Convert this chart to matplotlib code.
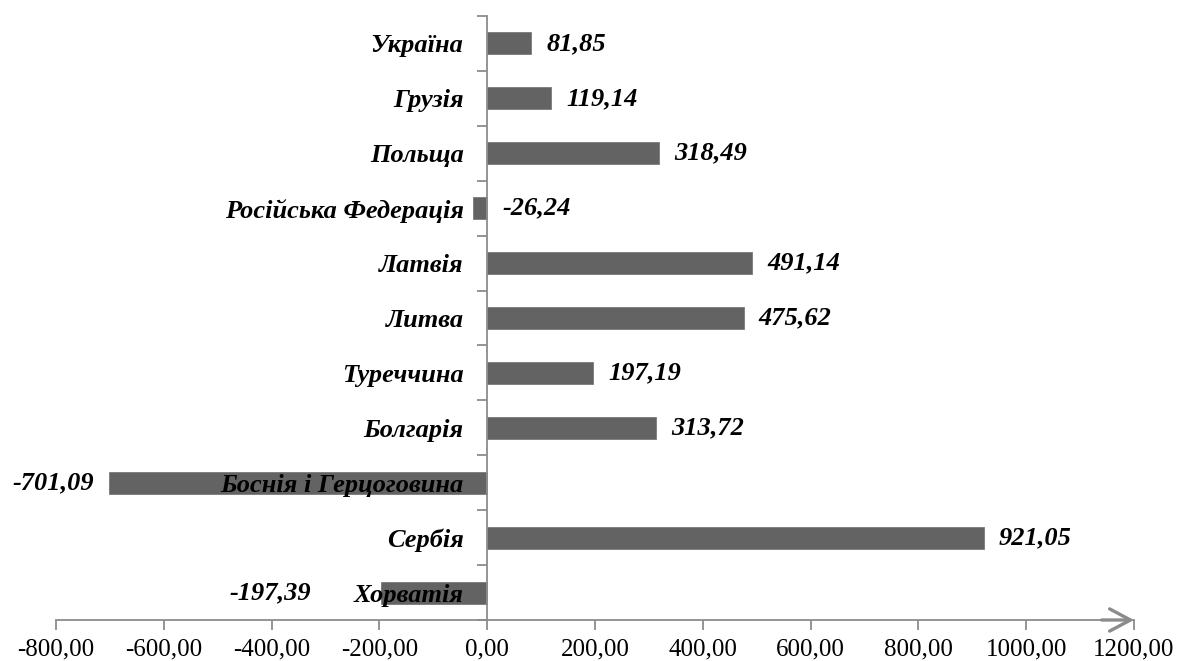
import matplotlib
matplotlib.use("Agg")
import matplotlib.pyplot as plt
from matplotlib.ticker import FixedLocator, FuncFormatter

countries = ["Україна", "Грузія", "Польща", "Російська Федерація", "Латвія",
             "Литва", "Туреччина", "Болгарія", "Боснія і Герцоговина",
             "Сербія", "Хорватія"]
values = [81.85, 119.14, 318.49, -26.24, 491.14, 475.62, 197.19, 313.72,
          -701.09, 921.05, -197.39]
x_ticks = [-800, -600, -400, -200, 0, 200, 400, 600, 800, 1000, 1200]

BAR = "#636363"
AXIS = "#8c8c8c"
SERIF = "Liberation Serif"

fig = plt.figure(figsize=(11.79, 6.61), dpi=100)
ax = fig.add_axes([56 / 1179, 41 / 661, (1134 - 56) / 1179, (620 - 16) / 661])

ypos = list(range(len(countries)))
ax.barh(ypos, values, height=0.4, color=BAR, edgecolor="#7a7a7a", linewidth=0.6, zorder=1)

ax.set_xlim(-800, 1200)
ax.set_ylim(len(countries) - 0.5, -0.5)

for side in ("top", "right"):
    ax.spines[side].set_visible(False)
ax.spines["left"].set_position(("data", 0))
for side in ("left", "bottom"):
    ax.spines[side].set_color(AXIS)
    ax.spines[side].set_linewidth(1.3)

# x axis: numeric ticks with comma decimals
ax.xaxis.set_major_locator(FixedLocator(x_ticks))
ax.xaxis.set_major_formatter(FuncFormatter(lambda v, p: f"{v:.2f}".replace(".", ",")))
ax.tick_params(axis="x", direction="out", length=7, width=1.3, color=AXIS,
               pad=6.5, labelsize=18)
for lab in ax.get_xticklabels():
    lab.set_fontfamily(SERIF)

# y axis on the zero line: category names and boundary ticks
ax.set_yticks(ypos)
ax.set_yticklabels(countries, fontfamily=SERIF, fontweight="bold",
                   fontstyle="italic", fontsize=19)
ax.tick_params(axis="y", which="major", length=0, pad=17)
ax.set_yticks([i - 0.5 for i in range(len(countries) + 1)], minor=True)
ax.tick_params(axis="y", which="minor", direction="out", length=7, width=1.3, color=AXIS)

# arrow head on the x axis
ax.annotate("", xy=(1.0, 0.0), xytext=(0.97, 0.0), xycoords="axes fraction",
            textcoords="axes fraction",
            arrowprops=dict(arrowstyle="->,head_length=0.75,head_width=0.4",
                            color=AXIS, lw=2.4, mutation_scale=20,
                            shrinkA=0, shrinkB=0),
            annotation_clip=False)

# value labels (a few shifted to sit clear of the category names)
anchor_at_zero = {"Російська Федерація"}
extra_shift = {"Хорватія": -39}
for y, name, v in zip(ypos, countries, values):
    text = f"{v:.2f}".replace(".", ",")
    if name in anchor_at_zero:
        x0, dx, ha = 0, 11, "left"
    elif v >= 0:
        x0, dx, ha = v, 11, "left"
    else:
        x0, dx, ha = v, -11, "right"
    dx += extra_shift.get(name, 0)
    ax.annotate(text, xy=(x0, y), xytext=(dx, 0), textcoords="offset points",
                ha=ha, va="center", fontfamily=SERIF, fontweight="bold",
                fontstyle="italic", fontsize=19, color="black",
                annotation_clip=False)

fig.savefig("out.png", dpi=100)
